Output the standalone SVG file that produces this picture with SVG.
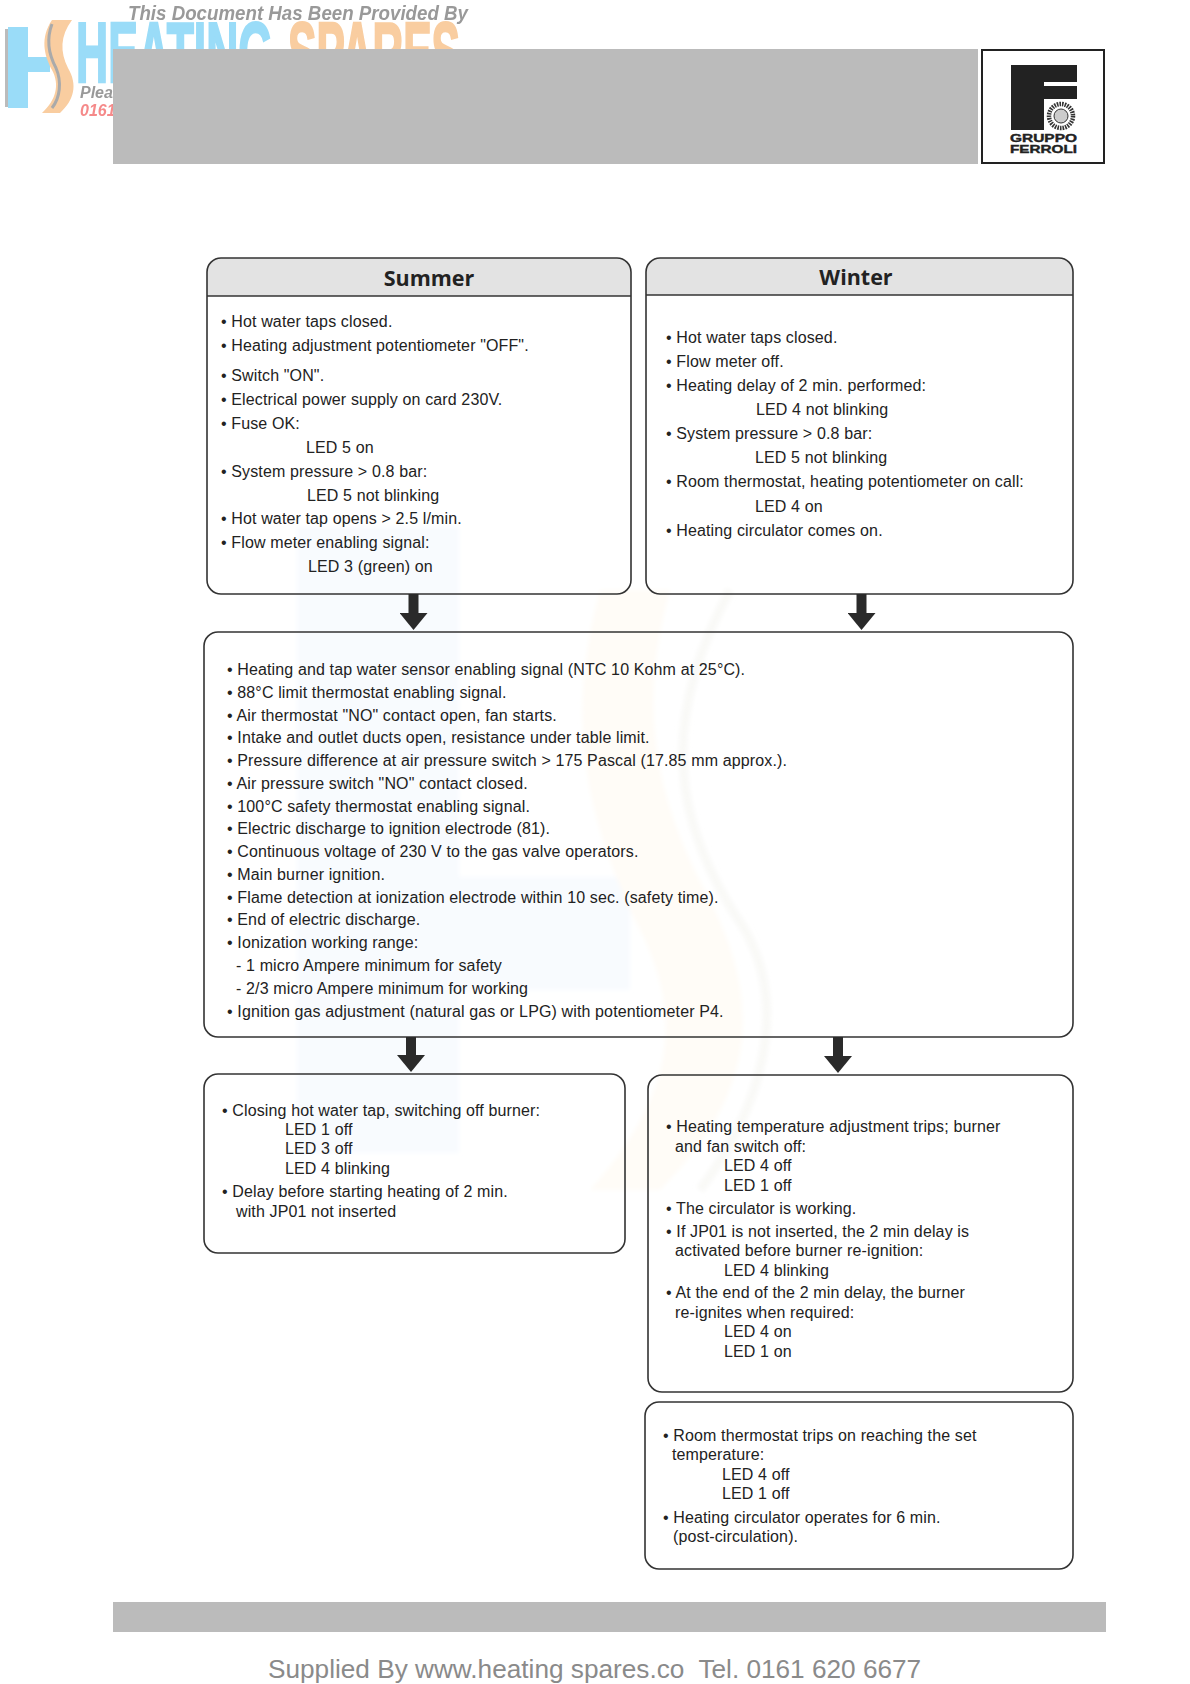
<svg xmlns="http://www.w3.org/2000/svg" width="1190" height="1684" viewBox="0 0 1190 1684">
<style>
text{font-family:"Liberation Sans",Arial,sans-serif;fill:#222}
.t{font-size:16px;letter-spacing:.13px}
.h{font-size:21.5px;font-weight:700;font-family:"Open Sans","Noto Sans",sans-serif;text-anchor:middle;fill:#222}
.box{fill:none;stroke:#333;stroke-width:1.6}
.bar{fill:#bbb}
.wm{font-weight:700;font-style:italic;font-size:20px;fill:#999}
.big{font-weight:700;font-size:85px;stroke-width:2.5}
.conn{stroke:#2a2a2a;stroke-width:10;fill:none;marker-end:url(#head)}
</style>
<defs>
<marker id="head" markerUnits="userSpaceOnUse" viewBox="0 -14 17 28" refX="0" refY="0" markerWidth="17" markerHeight="28" orient="auto"><path d="M0,-14L17,0L0,14Z" fill="#2a2a2a"/></marker>
<filter id="soft" x="-5%" y="-5%" width="110%" height="110%"><feGaussianBlur stdDeviation="0.7"/></filter>
<filter id="softer" x="-5%" y="-5%" width="110%" height="110%"><feGaussianBlur stdDeviation="2"/></filter>
</defs>
<rect width="1190" height="1684" fill="#fff"/>
<g id="background-watermark" filter="url(#softer)">
<path d="M297,527H459V877H630V990H459V1153H297Z" fill="#f8fbfe"/>
<path d="M600,590C570,700 575,800 640,930C680,1010 680,1090 590,1190H660C760,1090 760,1000 710,900C650,790 640,700 670,590Z" fill="#fffcf7"/>
<path d="M730,590C660,720 670,820 745,930C790,1010 760,1110 700,1190" fill="none" stroke="#f9f9f7" stroke-width="9"/>
</g>
<g id="watermark-logo" filter="url(#soft)">
<path d="M5,29H10V107H5Z" fill="#bbb"/>
<path d="M8,27H28V57H50V72H28V108H8Z" fill="#9adcf8"/>
<path d="M52,20C40,38 44,55 52,70C60,85 56,100 42,113H60C74,100 78,85 68,68C60,52 60,36 72,20Z" fill="#f9cda0"/>
<path d="M52,24C46,40 49,55 56,68C62,82 60,98 52,108" fill="none" stroke="#aaa" stroke-width="3"/>
<text class="big" x="76" y="82" textLength="197" lengthAdjust="spacingAndGlyphs" style="fill:#9adcf8;stroke:#9adcf8">HEATING</text>
<text class="big" x="288" y="82" textLength="172" lengthAdjust="spacingAndGlyphs" style="fill:#f9cda0;stroke:#f9cda0">SPARES</text>
<text class="wm" x="128" y="20" textLength="340" lengthAdjust="spacingAndGlyphs">This Document Has Been Provided By</text>
<text x="80" y="98" style="font-weight:700;font-style:italic;font-size:16px;fill:#999">Plea</text>
<text x="80" y="116" style="font-weight:700;font-style:italic;font-size:16px;fill:#f58a8a">0161</text>
</g>
<rect id="header-bar" class="bar" x="113" y="49" width="865" height="115"/>
<g id="logo">
<rect x="982" y="50" width="122" height="113" fill="#fff" stroke="#222" stroke-width="2"/>
<path d="M1011,65H1077V82H1044V86H1077V99H1044V130H1011Z" fill="#222"/>
<circle cx="1061" cy="116" r="12" fill="none" stroke="#333" stroke-width="4.5" stroke-dasharray="1.6 1"/>
<circle cx="1061" cy="116" r="7" fill="#ccc" stroke="#333" stroke-width="1"/>
<text x="1010" y="142" textLength="67" lengthAdjust="spacingAndGlyphs" style="font-weight:700;font-size:11.5px;stroke:#222;stroke-width:.4">GRUPPO</text>
<text x="1010" y="153" textLength="67" lengthAdjust="spacingAndGlyphs" style="font-weight:700;font-size:11.5px;stroke:#222;stroke-width:.4">FERROLI</text>
</g>
<g id="summer">
<path d="M207,296V272a14,14 0 0 1 14,-14H617a14,14 0 0 1 14,14V296Z" fill="#e3e3e3"/>
<rect class="box" x="207" y="258" width="424" height="336" rx="14"/>
<path class="box" d="M207,296H631"/>
<text class="h" x="429" y="286">Summer</text>
<text class="t" x="221" y="327">• Hot water taps closed.</text>
<text class="t" x="221" y="351">• Heating adjustment potentiometer "OFF".</text>
<text class="t" x="221" y="381">• Switch "ON".</text>
<text class="t" x="221" y="405">• Electrical power supply on card 230V.</text>
<text class="t" x="221" y="429">• Fuse OK:</text>
<text class="t" x="306" y="453">LED 5 on</text>
<text class="t" x="221" y="477">• System pressure &gt; 0.8 bar:</text>
<text class="t" x="307" y="501">LED 5 not blinking</text>
<text class="t" x="221" y="524">• Hot water tap opens &gt; 2.5 l/min.</text>
<text class="t" x="221" y="548">• Flow meter enabling signal:</text>
<text class="t" x="308" y="572">LED 3 (green) on</text>
</g>
<g id="winter">
<path d="M646,295V272a14,14 0 0 1 14,-14H1059a14,14 0 0 1 14,14V295Z" fill="#e3e3e3"/>
<rect class="box" x="646" y="258" width="427" height="336" rx="14"/>
<path class="box" d="M646,295H1073"/>
<text class="h" x="856" y="285">Winter</text>
<text class="t" x="666" y="343">• Hot water taps closed.</text>
<text class="t" x="666" y="367">• Flow meter off.</text>
<text class="t" x="666" y="391">• Heating delay of 2 min. performed:</text>
<text class="t" x="756" y="415">LED 4 not blinking</text>
<text class="t" x="666" y="439">• System pressure &gt; 0.8 bar:</text>
<text class="t" x="755" y="463">LED 5 not blinking</text>
<text class="t" x="666" y="487">• Room thermostat, heating potentiometer on call:</text>
<text class="t" x="755" y="512">LED 4 on</text>
<text class="t" x="666" y="536">• Heating circulator comes on.</text>
</g>
<g id="ignition">
<rect class="box" x="204" y="632" width="869" height="405" rx="14"/>
<text class="t" x="227" y="675">• Heating and tap water sensor enabling signal (NTC 10 Kohm at 25°C).</text>
<text class="t" x="227" y="698">• 88°C limit thermostat enabling signal.</text>
<text class="t" x="227" y="721">• Air thermostat "NO" contact open, fan starts.</text>
<text class="t" x="227" y="743">• Intake and outlet ducts open, resistance under table limit.</text>
<text class="t" x="227" y="766">• Pressure difference at air pressure switch &gt; 175 Pascal (17.85 mm approx.).</text>
<text class="t" x="227" y="789">• Air pressure switch "NO" contact closed.</text>
<text class="t" x="227" y="812">• 100°C safety thermostat enabling signal.</text>
<text class="t" x="227" y="834">• Electric discharge to ignition electrode (81).</text>
<text class="t" x="227" y="857">• Continuous voltage of 230 V to the gas valve operators.</text>
<text class="t" x="227" y="880">• Main burner ignition.</text>
<text class="t" x="227" y="903">• Flame detection at ionization electrode within 10 sec. (safety time).</text>
<text class="t" x="227" y="925">• End of electric discharge.</text>
<text class="t" x="227" y="948">• Ionization working range:</text>
<text class="t" x="236" y="971">- 1 micro Ampere minimum for safety</text>
<text class="t" x="236" y="994">- 2/3 micro Ampere minimum for working</text>
<text class="t" x="227" y="1017">• Ignition gas adjustment (natural gas or LPG) with potentiometer P4.</text>
</g>
<g id="tap-closed">
<rect class="box" x="204" y="1074" width="421" height="179" rx="14"/>
<text class="t" x="222" y="1116">• Closing hot water tap, switching off burner:</text>
<text class="t" x="285" y="1135">LED 1 off</text>
<text class="t" x="285" y="1154">LED 3 off</text>
<text class="t" x="285" y="1174">LED 4 blinking</text>
<text class="t" x="222" y="1197">• Delay before starting heating of 2 min.</text>
<text class="t" x="236" y="1217">with JP01 not inserted</text>
</g>
<g id="temperature-trip">
<rect class="box" x="648" y="1075" width="425" height="317" rx="14"/>
<text class="t" x="666" y="1132">• Heating temperature adjustment trips; burner</text>
<text class="t" x="675" y="1152">and fan switch off:</text>
<text class="t" x="724" y="1171">LED 4 off</text>
<text class="t" x="724" y="1191">LED 1 off</text>
<text class="t" x="666" y="1214">• The circulator is working.</text>
<text class="t" x="666" y="1237">• If JP01 is not inserted, the 2 min delay is</text>
<text class="t" x="675" y="1256">activated before burner re-ignition:</text>
<text class="t" x="724" y="1276">LED 4 blinking</text>
<text class="t" x="666" y="1298">• At the end of the 2 min delay, the burner</text>
<text class="t" x="675" y="1318">re-ignites when required:</text>
<text class="t" x="724" y="1337">LED 4 on</text>
<text class="t" x="724" y="1357">LED 1 on</text>
</g>
<g id="room-thermostat">
<rect class="box" x="645" y="1402" width="428" height="167" rx="14"/>
<text class="t" x="663" y="1441">• Room thermostat trips on reaching the set</text>
<text class="t" x="672" y="1460">temperature:</text>
<text class="t" x="722" y="1480">LED 4 off</text>
<text class="t" x="722" y="1499">LED 1 off</text>
<text class="t" x="663" y="1523">• Heating circulator operates for 6 min.</text>
<text class="t" x="673" y="1542">(post-circulation).</text>
</g>
<g id="connectors">
<path class="conn" d="M413.5,594V613"/>
<path class="conn" d="M861.5,594V613"/>
<path class="conn" d="M411,1037V1055"/>
<path class="conn" d="M838,1037V1056"/>
</g>
<rect id="footer-bar" class="bar" x="113" y="1602" width="993" height="30"/>
<text id="footer-text" x="268" y="1678" xml:space="preserve" style="font-size:26.2px;fill:#8a8a8a">Supplied By www.heating spares.co  Tel. 0161 620 6677</text>
</svg>
